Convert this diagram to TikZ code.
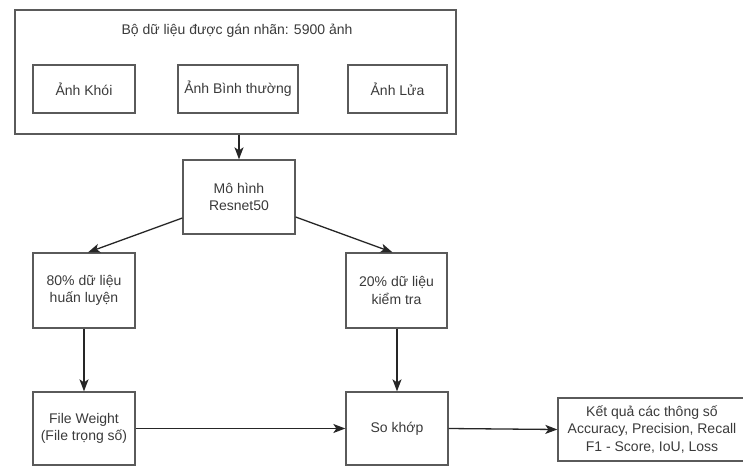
\documentclass[tikz,border=0pt]{standalone}
\usepackage{fontspec}
\setmainfont{Liberation Sans}
\usepackage{xcolor}
\usetikzlibrary{arrows.meta, positioning, calc}
\definecolor{boxgray}{HTML}{5A5A5A}
\definecolor{txtgray}{HTML}{3A3A3A}

\begin{document}
\begin{tikzpicture}[x=1pt, y=-1pt,
      box/.style={draw=boxgray, line width=1.3pt, text=txtgray, align=center,
        inner sep=0pt, font=\fontsize{14}{17.5}\selectfont},
      arr/.style={-{Stealth[length=12pt,width=9pt,inset=3pt]}, line width=1.3pt, black!85}]
      \useasboundingbox (0,0) rectangle (743,466);
      % khung bo du lieu
      \node[box, minimum width=441pt, minimum height=124pt] (dataset) at (235.5,72) {};
      \node[text=txtgray, font=\fontsize{14}{17.5}\selectfont] (title) at (237,31) {Bộ dữ liệu được gán nhãn: 5900 ảnh};
      \node[box, minimum width=102pt, minimum height=48pt] (smoke) at (84,89) {Ảnh Khói};
      \node[box, minimum width=120pt, minimum height=48pt] (normal) at (238,89) {Ảnh Bình thường};
      \node[box, minimum width=99pt, minimum height=48pt] (fire) at (397.5,89) {Ảnh Lửa};
      % mo hinh va chia du lieu
      \node[box, minimum width=112pt, minimum height=74pt] (model) at (239,197) {Mô hình\\Resnet50};
      \node[box, minimum width=102pt, minimum height=75pt] (train) at (84,290.5) {80\% dữ liệu\\huấn luyện};
      \node[box, minimum width=101pt, minimum height=75pt] (test) at (396.5,290.5) {20\% dữ liệu\\kiểm tra};
      % hang duoi
      \node[box, minimum width=102pt, minimum height=73pt] (weight) at (84,428.5) {File Weight\\(File trọng số)};
      \node[box, minimum width=102pt, minimum height=73pt] (match) at (397,428.5) {So khớp};
      \node[box, minimum width=188pt, minimum height=63pt] (result) at (652,429.5)
        {Kết quả các thông số\\Accuracy, Precision, Recall\\F1 - Score, IoU, Loss};
      % mui ten
      \draw[arr] (dataset.south -| model.north) -- (model.north);
      \draw[arr] ([yshift=-21pt]model.west) -- ([xshift=4pt]train.north);
      \draw[arr] ([yshift=-20pt]model.east) -- ([xshift=-4pt]test.north);
      \draw[arr] (train.south) -- (weight.north);
      \draw[arr] (test.south -| match.north) -- (match.north);
      \draw[arr] (weight.east) -- (match.west);
      \draw[arr] (match.east) -- (result.west);
    \end{tikzpicture}
\end{document}
